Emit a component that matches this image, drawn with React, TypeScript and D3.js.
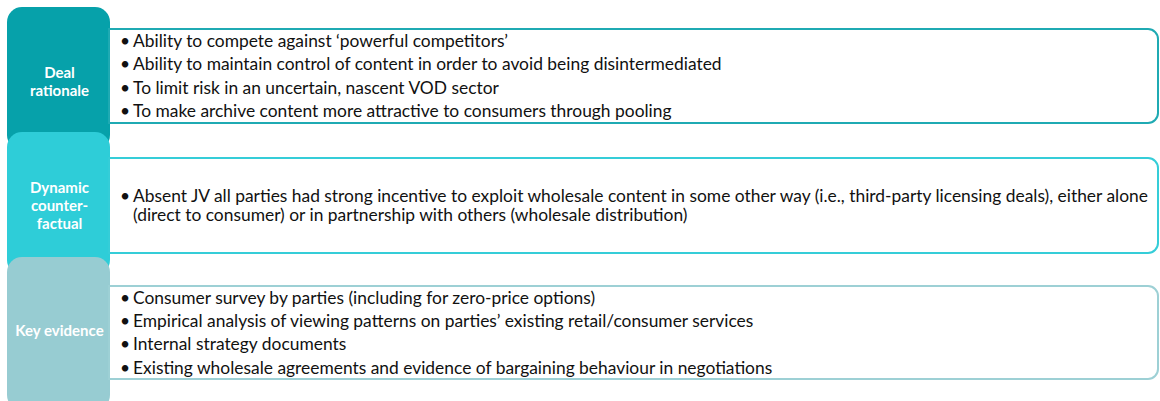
import React from "react";
import * as d3 from "d3";

const sectionLabels: string[][] = [["Deal", "rationale"], ["Dynamic", "counter-", "factual"], ["Key evidence"]];
const tabColors = ["#06A1AA", "#2ECDD8", "#97CCD2"];
const boxStroke = ["#1FAAB3", "#35CDD8", "#9DD0D5"];
const bullets1 = [
  "Ability to compete against \u2018powerful competitors\u2019",
  "Ability to maintain control of content in order to avoid being disintermediated",
  "To limit risk in an uncertain, nascent VOD sector",
  "To make archive content more attractive to consumers through pooling",
];
const bullets2 = [
  "Absent JV all parties had strong incentive to exploit wholesale content in some other way (i.e., third-party licensing deals), either alone|(direct to consumer) or in partnership with others (wholesale distribution)",
];
const bullets3 = [
  "Consumer survey by parties (including for zero-price options)",
  "Empirical analysis of viewing patterns on parties\u2019 existing retail/consumer services",
  "Internal strategy documents",
  "Existing wholesale agreements and evidence of bargaining behaviour in negotiations",
];
const bulletGroups = [bullets1, bullets2, bullets3];

const W = 1160, H = 401;
const tabTop = [7, 132, 257];
const tabBottom = [150, 275, 410];
const labelCenter = [81.5, 206, 331];
const boxTop = [29, 158, 286];
const boxBottom = [123, 253, 379];
const FONT = "Lato, 'Open Sans', sans-serif";

function rightRounded(x0: number, y0: number, x1: number, y1: number, r: number) {
  const p = d3.path();
  p.moveTo(x0, y0);
  p.lineTo(x1 - r, y0);
  p.arcTo(x1, y0, x1, y0 + r, r);
  p.lineTo(x1, y1 - r);
  p.arcTo(x1, y1, x1 - r, y1, r);
  p.lineTo(x0, y1);
  p.closePath();
  return p.toString();
}

export default function App() {
  const tabX0 = 7, tabX1 = 110;
  const boxX0 = 109, boxX1 = 1158;
  return (
    <svg width={W} height={H} style={{ position: "absolute", left: 0, top: 0, display: "block" }}>
      <rect x={0} y={0} width={W} height={H} fill="#fff" />
      {sectionLabels.map((_, i) => (
        <rect key={"t" + i} x={tabX0} y={tabTop[i]} width={tabX1 - tabX0} height={tabBottom[i] - tabTop[i]} rx={15} ry={15} fill={tabColors[i]} />
      ))}
      {sectionLabels.map((lines, i) => {
        const lh = 17.8;
        const start = labelCenter[i] - ((lines.length - 1) * lh) / 2;
        return (
          <g key={"l" + i}>
            {lines.map((ln, j) => (
              <text key={j} x={(tabX0 + tabX1) / 2 + 1} y={start + j * lh} dy="0.35em" textAnchor="middle" fill="#fff" fontFamily={FONT} fontWeight={700} fontSize={15}>
                {ln}
              </text>
            ))}
          </g>
        );
      })}
      {bulletGroups.map((items, i) => {
        const lines: string[] = [];
        items.forEach((it) => it.split("|").forEach((s) => lines.push(s)));
        const cy = (boxTop[i] + boxBottom[i]) / 2;
        const lh = lines.length === 2 ? 19 : 23.3;
        const start = cy - ((lines.length - 1) * lh) / 2;
        let idx = 0;
        return (
          <g key={"b" + i}>
            <path d={rightRounded(boxX0, boxTop[i], boxX1, boxBottom[i], 10)} fill="#fff" stroke={boxStroke[i]} strokeWidth={2} />
            {items.map((it) =>
              it.split("|").map((s, k) => {
                const y = start + idx * lh;
                idx++;
                return (
                  <g key={idx}>
                    {k === 0 && (
                      <text x={120} y={y} dy="0.35em" fontFamily={FONT} fontSize={17.4} fill="#111">{"\u2022"}</text>
                    )}
                    <text x={133} y={y} dy="0.35em" fontFamily={FONT} fontSize={17.4} fill="#111">{s}</text>
                  </g>
                );
              })
            )}
          </g>
        );
      })}
    </svg>
  );
}
